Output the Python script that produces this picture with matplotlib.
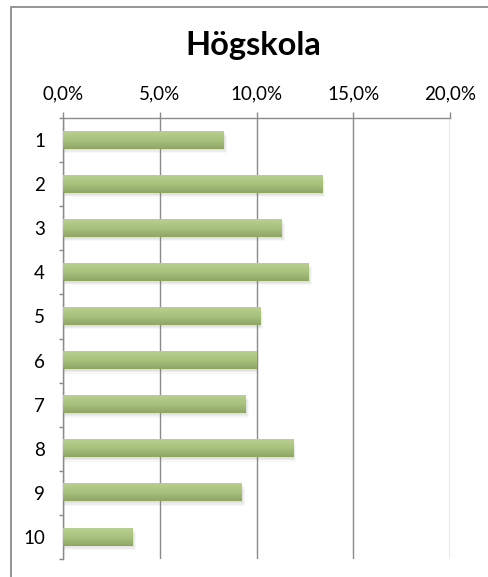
import numpy as np
import matplotlib.pyplot as plt
from matplotlib.patches import Rectangle
from matplotlib.colors import LinearSegmentedColormap
from matplotlib.ticker import FuncFormatter, MultipleLocator

# andel per kategori (%)
categories = ['1', '2', '3', '4', '5', '6', '7', '8', '9', '10']
values = [8.3, 13.4, 11.3, 12.7, 10.2, 10.0, 9.45, 11.9, 9.25, 3.6]

plt.rcParams['font.family'] = ['Lato', 'DejaVu Sans']

fig = plt.figure(figsize=(4.88, 5.77), dpi=100)
# ram runt diagrammet (höger/nederkant utanför bilden)
fig.patches.append(Rectangle((11 / 488, -0.05), 1.1, 1.05 - 7 / 577,
                             transform=fig.transFigure, fill=False,
                             edgecolor='#8c8c8c', linewidth=1.3))

ax = fig.add_axes([63 / 488, 18 / 577, 387 / 488, 441 / 577])
pos = np.arange(len(values))
h = 0.39

# gradient för staplarna: ljus överkant, mörkare underkant
grad = np.linspace(0, 1, 64).reshape(-1, 1)
cmap = LinearSegmentedColormap.from_list('g', ['#b9d08e', '#a9c27e', '#8ea566'])

for y, v in zip(pos, values):
    # mjuk skugga
    for k, a in enumerate([0.10, 0.08, 0.06]):
        off = 0.04 + k * 0.03
        ax.add_patch(Rectangle((0, y - h / 2 + off), v + 0.05 + k * 0.05, h,
                               facecolor='#7f7f7f', edgecolor='none',
                               alpha=a, zorder=2))
    ax.imshow(grad, cmap=cmap, aspect='auto', zorder=3,
              extent=(0, v, y + h / 2, y - h / 2))

ax.set_xlim(0, 20)
ax.set_ylim(len(values) - 0.5, -0.5)

ax.xaxis.set_major_locator(MultipleLocator(5))
ax.xaxis.set_major_formatter(FuncFormatter(lambda x, p: f'{x:.1f}%'.replace('.', ',')))
ax.xaxis.tick_top()
ax.grid(axis='x', color='#8a8a8a', linewidth=1.0, zorder=1)
ax.set_axisbelow(True)

ax.set_yticks(pos)
ax.set_yticklabels(categories)
ax.set_yticks(np.arange(len(values) + 1) - 0.5, minor=True)
ax.tick_params(axis='y', which='major', length=0, pad=13, labelsize=13.5)
ax.tick_params(axis='y', which='minor', length=3, color='#8a8a8a', width=1)
ax.tick_params(axis='x', which='major', length=4, color='#8a8a8a', width=1,
               pad=7, labelsize=13.5)

for s in ['right', 'bottom']:
    ax.spines[s].set_visible(False)
for s in ['top', 'left']:
    ax.spines[s].set_color('#8a8a8a')
    ax.spines[s].set_linewidth(1.0)

fig.text(253 / 488, 1 - 45 / 577, 'Högskola', ha='center', va='center',
         fontsize=23.5, fontweight='bold')

fig.savefig('out.png', dpi=100)
